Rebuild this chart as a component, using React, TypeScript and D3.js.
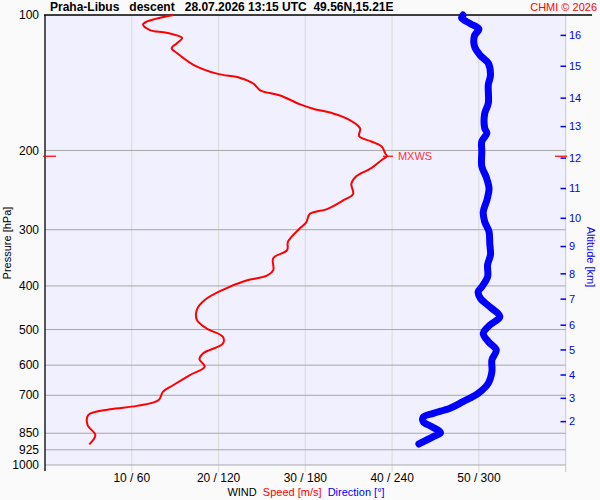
import * as d3 from "d3";

// pressure levels on the left axis [hPa]
const PRESSURE_TICKS = [100, 200, 300, 400, 500, 600, 700, 850, 925, 1000];
// wind speed ticks [m/s], direction label = speed * 6
const SPEED_TICKS = [10, 20, 30, 40, 50, 60];
// altitude ticks [km] and the pressure they sit at [hPa]
const ALT_KM = [2, 3, 4, 5, 6, 7, 8, 9, 10, 11, 12, 13, 14, 15, 16];
const ALT_P = [801, 711, 631, 555, 489, 428, 376, 327, 283, 243, 208, 177, 153, 130, 111];

// wind speed profile
const SPEED_P = [
  100, 103.5, 105, 108, 109.5, 112.5, 115.5, 118.5, 121.5, 129, 135, 138, 142, 147, 151, 158,
  161.5, 165.5, 170, 178.5, 186, 191, 196, 203, 206, 210, 219, 228, 237, 250, 258, 270, 277,
  289, 300, 319, 333, 347, 369, 380, 389, 408, 430, 452, 476, 497, 519, 537, 565, 582, 605,
  631, 664, 687, 717, 739, 752, 774, 815, 858, 900,
];
const SPEED_MS = [
  14.8, 11.7, 11.3, 12.1, 14.0, 15.8, 15.2, 14.6, 15.2, 17.1, 19.8, 22.5, 24.0, 24.8, 27.1, 29.4,
  30.9, 33.2, 34.8, 36.3, 36.2, 37.6, 38.8, 39.2, 39.4, 38.8, 37.6, 35.9, 35.3, 35.5, 34.4, 32.5,
  30.5, 30.1, 29.2, 28.0, 27.9, 26.3, 26.3, 25.5, 23.2, 20.5, 18.4, 17.5, 17.5, 18.6, 20.5, 20.5,
  18.2, 17.8, 18.4, 16.7, 14.8, 13.6, 13.1, 10.6, 7.5, 5.0, 4.9, 5.8, 5.1,
];

// wind direction profile
const DIR_P = [
  100, 101.5, 104.5, 107.5, 111, 117.5, 123, 128, 136, 143, 157, 165.5, 178.5, 183, 191, 201,
  217, 229, 243, 258, 274, 288, 303, 322, 341, 359, 382, 402, 412, 426, 445, 468, 489, 510, 532,
  555, 584, 620, 658, 693, 723, 748, 768, 783, 801, 822, 848, 865, 898,
];
const DIR_DEG = [
  289, 288, 294, 300, 297, 297, 301, 306.5, 308, 306.5, 306.5, 304, 304, 305.5, 302, 302,
  302, 305, 307, 305.5, 303, 304, 307, 307.5, 308, 306, 306, 302, 299.5, 301, 307.5, 314.5,
  307.5, 303, 306.5, 312, 309, 309, 306.5, 299.5, 289, 280, 268.5, 261.5, 261.5, 267.5, 273.5,
  268.5, 258.5,
];

const FONT = "'Liberation Sans', Arial, sans-serif";
const BLUE = "#0000ff";
const RED = "#ff0000";

export default function App() {
  const left = 45;
  const right = 565.7;
  const top = 15;
  const bottom = 465;

  const y = d3.scaleLog().domain([100, 1000]).range([top, bottom]);
  const xs = d3.scaleLinear().domain([0, 60]).range([left, right]);
  const xd = d3.scaleLinear().domain([0, 360]).range([left, right]);

  const speedLine = d3
    .line<number>()
    .x((d) => xs(d))
    .y((_, i) => y(SPEED_P[i]))
    .curve(d3.curveCatmullRom);
  const dirLine = d3
    .line<number>()
    .x((d) => xd(d))
    .y((_, i) => y(DIR_P[i]))
    .curve(d3.curveCatmullRom);

  const maxI = d3.maxIndex(SPEED_MS);
  const mx = xs(SPEED_MS[maxI]);
  const my = y(SPEED_P[maxI]);

  return (
    <svg
      width={600}
      height={500}
      style={{ position: "absolute", left: 0, top: 0, background: "#fafafa" }}
      fontFamily={FONT}
    >
      <rect x={left} y={top} width={right - left} height={bottom - top} fill="#f0f0fe" />

      {/* vertical grid */}
      {SPEED_TICKS.map((s) => (
        <line
          key={"v" + s}
          x1={xs(s)}
          x2={xs(s)}
          y1={top}
          y2={bottom + 7}
          stroke={s === 60 ? "#c8c8c8" : "#dadada"}
          strokeWidth={1}
        />
      ))}
      {SPEED_TICKS.filter((s) => s < 60).map((s) => (
        <text key={"vt" + s} x={xs(s)} y={482} fontSize={12} textAnchor="middle" fill="#000">
          {`${s} / ${s * 6}`}
        </text>
      ))}

      {/* pressure grid */}
      {PRESSURE_TICKS.map((p) => (
        <g key={"p" + p}>
          {p > 100 && (
            <line x1={left} x2={right} y1={y(p)} y2={y(p)} stroke="#a8a8a8" strokeWidth={1} />
          )}
          <text x={39} y={y(p)} dy="0.35em" fontSize={12} textAnchor="end" fill="#000">
            {p}
          </text>
        </g>
      ))}

      {/* axes frame */}
      <line x1={left} x2={left} y1={top} y2={bottom + 6} stroke="#000" strokeWidth={1.3} />
      <line x1={left - 1} x2={592} y1={top} y2={top} stroke="#000" strokeWidth={1.3} />

      {/* altitude axis */}
      {ALT_KM.map((k, i) => (
        <g key={"a" + k}>
          <line x1={560.5} x2={566} y1={y(ALT_P[i])} y2={y(ALT_P[i])} stroke={BLUE} strokeWidth={1.5} />
          <text x={569} y={y(ALT_P[i])} dy="0.35em" fontSize={11} fill={BLUE}>
            {k}
          </text>
        </g>
      ))}

      {/* profiles */}
      <path
        d={dirLine(DIR_DEG) ?? ""}
        fill="none"
        stroke={BLUE}
        strokeWidth={7}
        strokeLinecap="round"
        strokeLinejoin="round"
      />
      <path d={speedLine(SPEED_MS) ?? ""} fill="none" stroke={RED} strokeWidth={2} />

      {/* max wind marker */}
      <line x1={mx - 4} x2={mx + 6} y1={my} y2={my} stroke={RED} strokeWidth={1.2} />
      <text x={mx + 11} y={my} dy="0.35em" fontSize={11} fill={RED} opacity={0.8}>
        MXWS
      </text>
      <line x1={43} x2={56} y1={my} y2={my} stroke={RED} strokeWidth={1.2} />
      <line x1={555} x2={567} y1={my} y2={my} stroke={RED} strokeWidth={1.2} />

      {/* titles */}
      <text x={50} y={11} fontSize={12} fontWeight="bold" fill="#000" style={{ whiteSpace: "pre" }}>
        {"Praha-Libus   descent   28.07.2026 13:15 UTC  49.56N,15.21E"}
      </text>
      <text x={597} y={11} fontSize={11} textAnchor="end" fill={RED}>
        CHMI © 2026
      </text>
      <text
        transform={`translate(11,243) rotate(-90)`}
        fontSize={11}
        textAnchor="middle"
        fill="#000"
      >
        Pressure [hPa]
      </text>
      <text
        transform={`translate(587,257) rotate(90)`}
        fontSize={11}
        textAnchor="middle"
        fill={BLUE}
      >
        Altitude [km]
      </text>
      <text x={306} y={496} fontSize={11} textAnchor="middle" style={{ whiteSpace: "pre" }}>
        <tspan fill="#000">WIND  </tspan>
        <tspan fill={RED}>Speed [m/s]  </tspan>
        <tspan fill={BLUE}>Direction [°]</tspan>
      </text>
    </svg>
  );
}
